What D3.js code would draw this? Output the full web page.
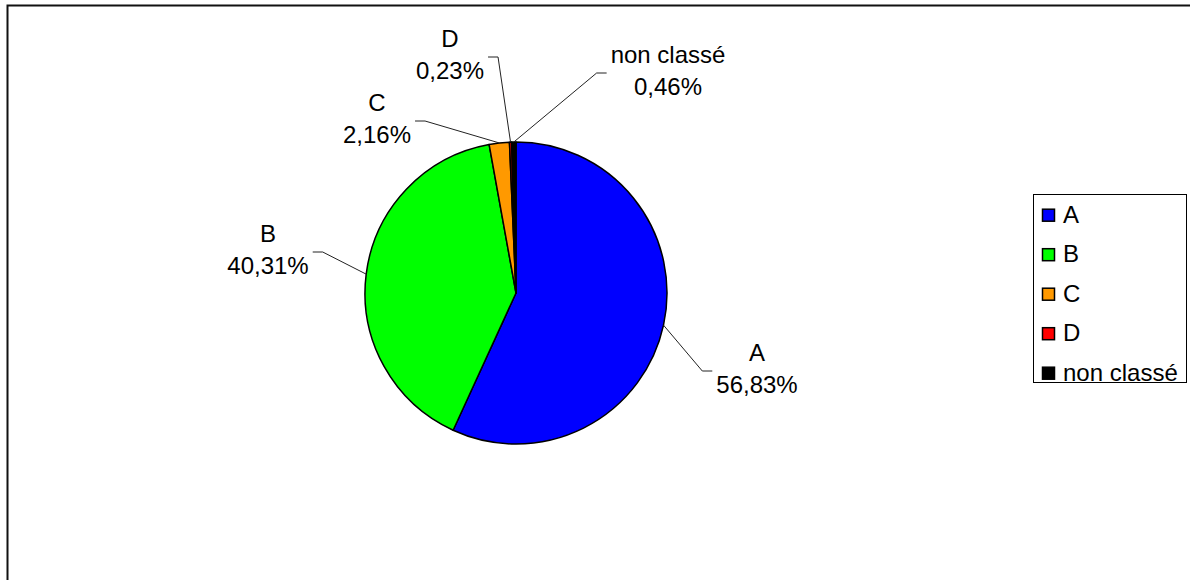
<!DOCTYPE html>
<html>
<head>
    <meta charset="UTF-8">
    <title>Répartition</title>
    <script src="https://cdn.jsdelivr.net/npm/d3@7"></script>
    <style>
        body { margin: 0; background: #fff; }
        svg { display: block; font-family: "Liberation Sans", Arial, sans-serif; }
    </style>
</head>
<body>
    <svg width="1190" height="580"></svg>
    <script>
        // data
        let categories = ["A", "B", "C", "D", "non classé"];
        let shares = [56.83, 40.31, 2.16, 0.23, 0.46];
        let shareLabels = ["56,83%", "40,31%", "2,16%", "0,23%", "0,46%"];
        let colors = ["#0000ff", "#00ff00", "#ff9900", "#ff0000", "#000000"];

        // layout: label centre x / first baseline y for each slice
        let labelPos = [[757, 361], [268, 242], [377, 111], [450, 47], [668, 63]];

        let width = 1190, height = 580;
        let svg = d3.select("svg");

        // outer frame (runs off the right/bottom edges)
        svg.append("rect")
            .attr("x", 7.5).attr("y", 5.5)
            .attr("width", 1200).attr("height", 600)
            .attr("fill", "none")
            .attr("stroke", "#111")
            .attr("stroke-width", 2);

        let cx = 516, cy = 293, r = 151;

        let pie = d3.pie().sort(null).value(d => d);
        let arcs = pie(shares);
        let arc = d3.arc().innerRadius(0).outerRadius(r);

        let g = svg.append("g").attr("transform", `translate(${cx},${cy})`);

        g.selectAll("path")
            .data(arcs)
            .enter().append("path")
            .attr("d", arc)
            .attr("fill", (d, i) => colors[i])
            .attr("stroke", "#000")
            .attr("stroke-width", 1.5)
            .attr("stroke-linejoin", "round");

        // labels
        let labels = svg.append("g")
            .attr("font-size", 24)
            .attr("fill", "#000")
            .attr("text-anchor", "middle");

        arcs.forEach((d, i) => {
            let [lx, ly] = labelPos[i];
            let t = labels.append("text").attr("x", lx).attr("y", ly);
            t.append("tspan").attr("x", lx).text(categories[i]);
            t.append("tspan").attr("x", lx).attr("dy", 32).text(shareLabels[i]);

            let w = Math.max(...t.selectAll("tspan").nodes().map(n => n.getComputedTextLength()));
            let mid = (d.startAngle + d.endAngle) / 2;
            let px = cx + r * Math.sin(mid), py = cy - r * Math.cos(mid);
            let side = px > lx ? 1 : -1;
            let ex = lx + side * (w / 2 + 4), ey = ly + 10;
            let kx = ex + side * 10;

            svg.append("polyline")
                .attr("points", [[ex, ey], [kx, ey], [px, py]].map(p => p.join(",")).join(" "))
                .attr("fill", "none")
                .attr("stroke", "#222")
                .attr("stroke-width", 1);
        });

        // legend
        let legend = svg.append("g");
        legend.append("rect")
            .attr("x", 1033.5).attr("y", 194.5)
            .attr("width", 153).attr("height", 188)
            .attr("fill", "#fff")
            .attr("stroke", "#000")
            .attr("stroke-width", 1);

        let rows = legend.selectAll("g.row")
            .data(categories)
            .enter().append("g")
            .attr("class", "row")
            .attr("transform", (d, i) => `translate(1042, ${222.7 + i * 39.5})`);

        rows.append("rect")
            .attr("x", 0.5).attr("y", -13.5)
            .attr("width", 12).attr("height", 12)
            .attr("fill", (d, i) => colors[i])
            .attr("stroke", "#000")
            .attr("stroke-width", 1.5);

        rows.append("text")
            .attr("x", 21).attr("y", 0)
            .attr("font-size", 24)
            .text(d => d);
    </script>
</body>
</html>
